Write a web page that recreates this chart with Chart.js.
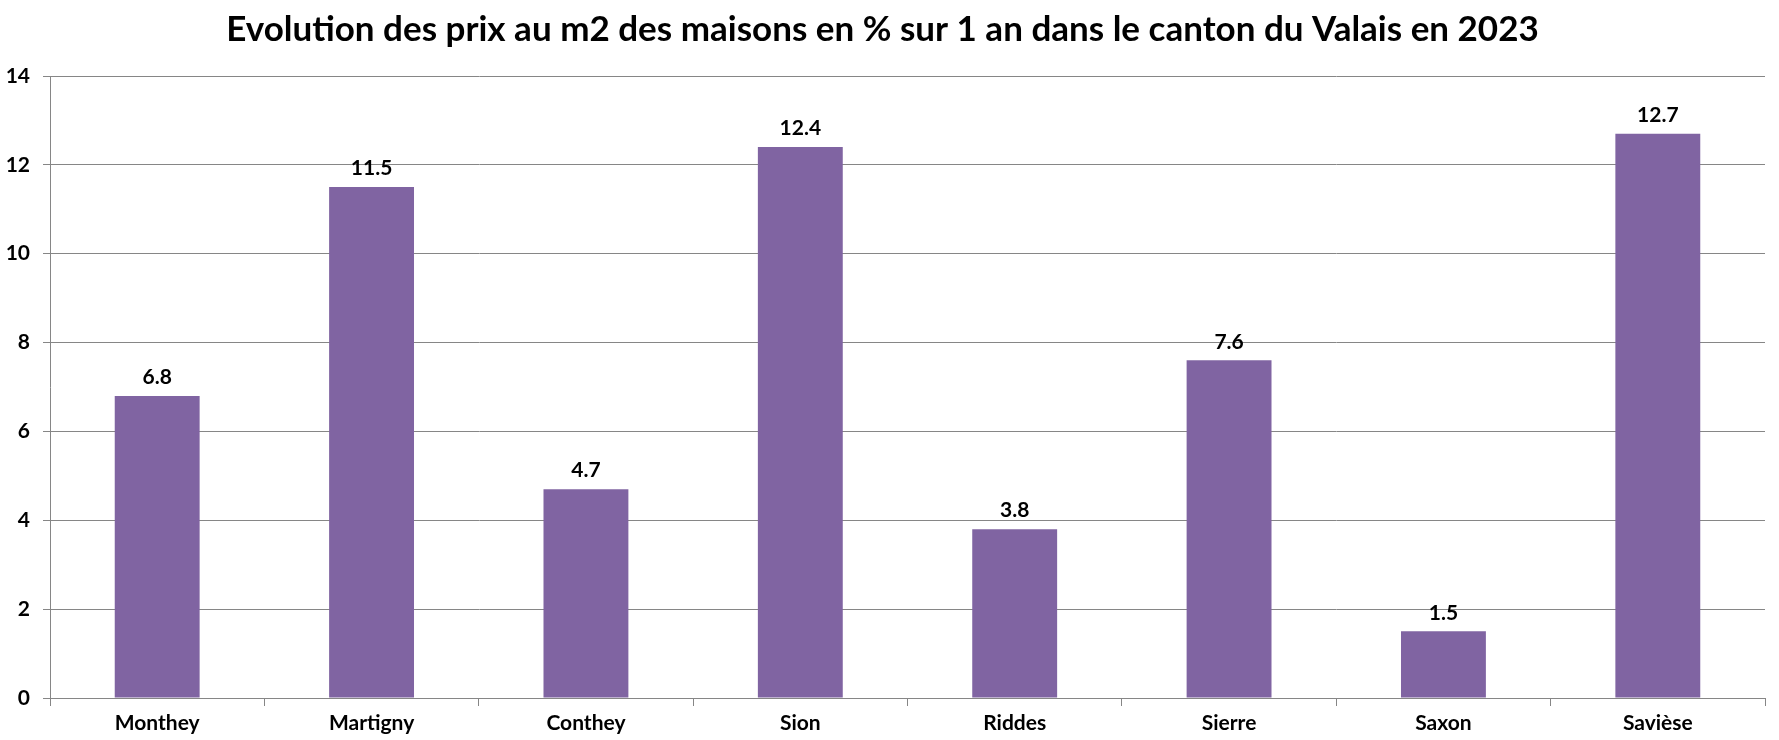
<!DOCTYPE html>
<html>
<head>
<meta charset="utf-8">
<script src="https://cdn.jsdelivr.net/npm/chart.js@4"></script>
<style>
	html, body { margin: 0; padding: 0; background: #fff; }
	#wrap { width: 1779px; height: 740px; }
</style>
</head>
<body>
<div id="wrap"><canvas id="bar-chart"></canvas></div>
<script>
const communes = ['Monthey', 'Martigny', 'Conthey', 'Sion', 'Riddes', 'Sierre', 'Saxon', 'Savièse']
const evolution = [6.8, 11.5, 4.7, 12.4, 3.8, 7.6, 1.5, 12.7]
const titre = 'Evolution des prix au m2 des maisons en % sur 1 an dans le canton du Valais en 2023'

const police = 'Lato'
const gris = '#868686'

//draws the value above each bar
const valeurs = {
	id: 'valeurs',
	afterDatasetsDraw(chart) {
		const ctx = chart.ctx
		const meta = chart.getDatasetMeta(0)
		ctx.save()
		ctx.font = 'bold 21px ' + police
		ctx.fillStyle = '#000'
		ctx.textAlign = 'center'
		ctx.textBaseline = 'bottom'
		meta.data.forEach((bar, i) => {
			ctx.fillText(evolution[i].toFixed(1), bar.x, bar.y - 8)
		})
		ctx.restore()
	}
}

const placeHolder = document.querySelector('#bar-chart')
const chart = new Chart(placeHolder, {
	type: 'bar',
	data: {
		labels: communes,
		datasets: [
			{
				data: evolution,
				backgroundColor: '#8064A2',
				barPercentage: 0.396,
				categoryPercentage: 1
			}
		]
	},
	options: {
		responsive: true,
		maintainAspectRatio: false,
		animation: false,
		layout: { padding: { left: 0, right: 14, top: 0, bottom: 0 } },
		plugins: {
			legend: { display: false },
			tooltip: { enabled: false },
			title: {
				display: true,
				text: titre,
				color: '#000',
				font: { family: police, size: 35, weight: 'bold' },
				padding: { top: 9, bottom: 25 }
			}
		},
		scales: {
			x: {
				offset: true,
				grid: { offset: true, drawOnChartArea: false, color: gris, tickLength: 8 },
				border: { color: gris },
				ticks: { color: '#000', font: { family: police, size: 21, weight: 'bold' }, padding: 5 },
				afterFit(scale) { scale.height = 42 }
			},
			y: {
				min: 0,
				max: 14,
				ticks: { stepSize: 2, color: '#000', font: { family: police, size: 21, weight: 'bold' }, padding: 13 },
				grid: { color: gris, tickLength: 7 },
				border: { color: gris },
				afterFit(scale) { scale.width = 50 }
			}
		}
	},
	plugins: [valeurs]
})
</script>
</body>
</html>
